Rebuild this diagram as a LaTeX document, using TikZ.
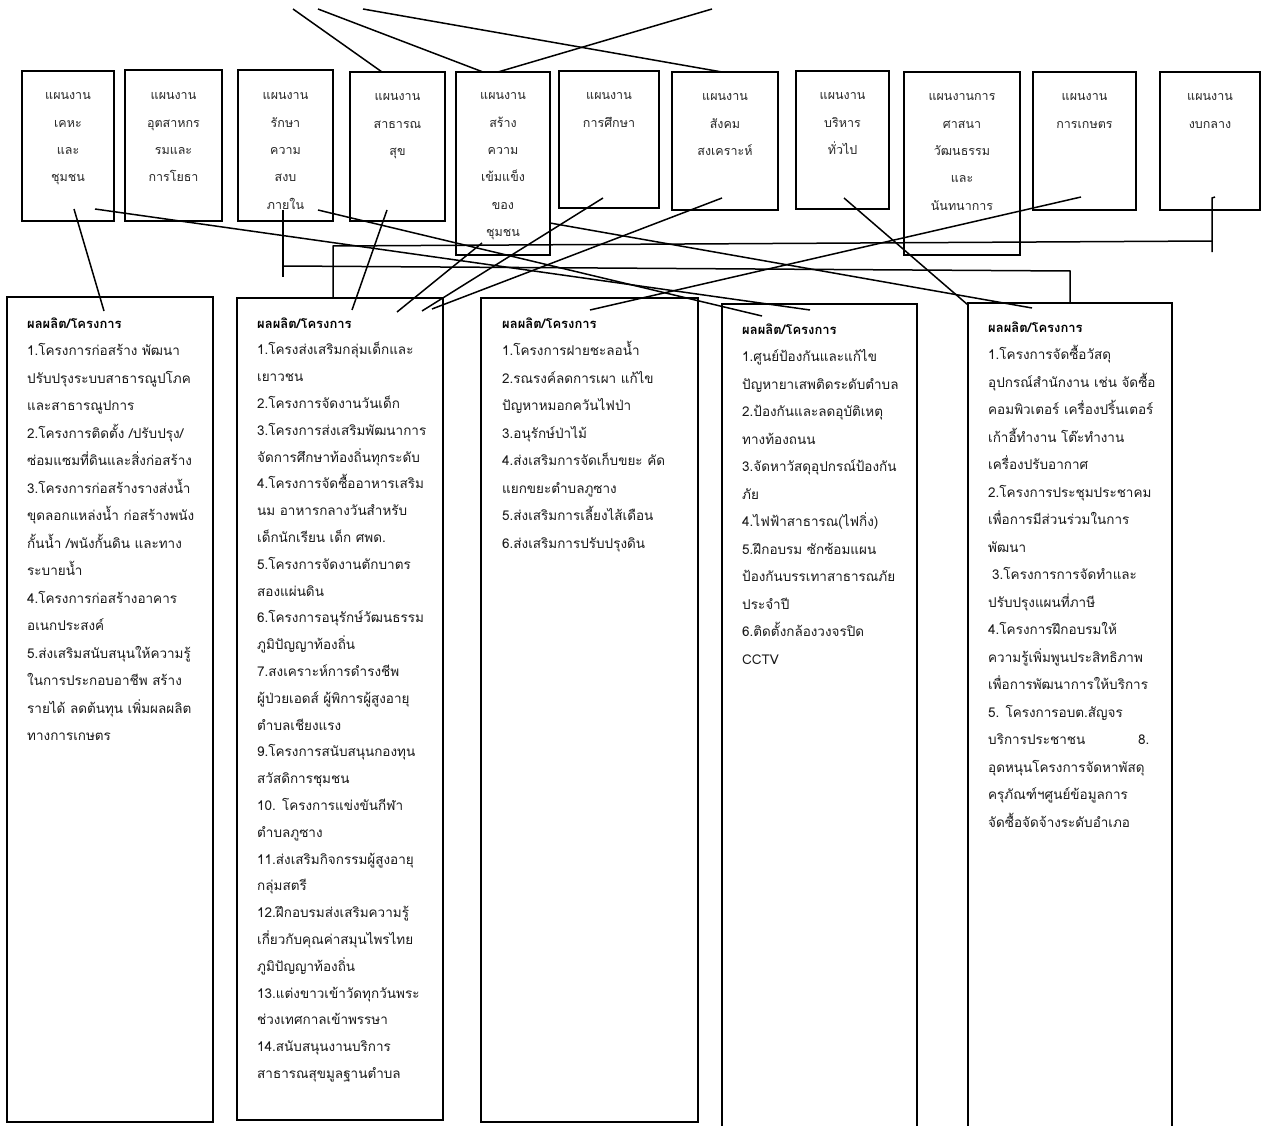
\documentclass[tikz,border=0pt]{standalone}
\usepackage{fontspec}
\newfontfamily\thai[Script=Thai]{Loma}
\newcommand\toplines[4]{%
  \foreach \s [count=\i from 0] in {#4}
    \node[ttext] (#1l\i) at (#2, #3+27.3*\i) {\s};}
\newcommand\botlines[5]{%
  \foreach \s [count=\i] in {#5}
    \node[btext] (#1l\i) at (#2, #3+#4*\i) {\s};}
\begin{document}
\begin{tikzpicture}[x=1pt,y=-1pt]
\tikzset{
  tbox/.style={draw, line width=1.6pt, inner sep=0pt, outer sep=0pt},
  ttext/.style={font=\thai\fontsize{12.5}{14}\selectfont, anchor=base, inner sep=0pt, text=black!85},
  btext/.style={font=\thai\fontsize{13.5}{15}\selectfont, anchor=base west, inner sep=0pt, text=black!90},
  hdr/.style={font=\thai\bfseries\fontsize{13}{15}\selectfont, anchor=base west, inner sep=0pt},
  conn/.style={line width=1.5pt},
}
\useasboundingbox (0,0) rectangle (1263,1126);
\clip (0,0) rectangle (1263,1126);

% top boxes
\node[tbox, minimum width=92pt,  minimum height=150pt] (t1)  at (68,146) {};
\node[tbox, minimum width=97pt,  minimum height=151pt] (t2)  at (173.5,145.5) {};
\node[tbox, minimum width=95pt,  minimum height=151pt] (t3)  at (285.5,145.5) {};
\node[tbox, minimum width=95pt,  minimum height=149pt] (t4)  at (397.5,146.5) {};
\node[tbox, minimum width=94pt,  minimum height=183pt] (t5)  at (503,163.5) {};
\node[tbox, minimum width=100pt, minimum height=137pt] (t6)  at (609,139.5) {};
\node[tbox, minimum width=106pt, minimum height=138pt] (t7)  at (725,141) {};
\node[tbox, minimum width=93pt,  minimum height=138pt] (t8)  at (842.5,140) {};
\node[tbox, minimum width=116pt, minimum height=183pt] (t9)  at (962,163.5) {};
\node[tbox, minimum width=103pt, minimum height=138pt] (t10) at (1084.5,141) {};
\node[tbox, minimum width=100pt, minimum height=138pt] (t11) at (1210,141) {};

\toplines{t1}{68}{100}{แผนงาน,เคหะ,และ,ชุมชน}
\toplines{t2}{173.5}{100}{แผนงาน,อุตสาหกร,รมและ,การโยธา}
\toplines{t3}{285.5}{100}{แผนงาน,รักษา,ความ,สงบ,ภายใน}
\toplines{t4}{397.5}{101}{แผนงาน,สาธารณ,สุข}
\toplines{t5}{503}{100}{แผนงาน,สร้าง,ความ,เข้มแข็ง,ของ,ชุมชน}
\toplines{t6}{609}{100}{แผนงาน,การศึกษา}
\toplines{t7}{725}{101}{แผนงาน,สังคม,สงเคราะห์}
\toplines{t8}{842.5}{100}{แผนงาน,บริหาร,ทั่วไป}
\toplines{t9}{962}{101}{แผนงานการ,ศาสนา,วัฒนธรรม,และ,นันทนาการ}
\toplines{t10}{1084.5}{101}{แผนงาน,การเกษตร}
\toplines{t11}{1210}{101}{แผนงาน,งบกลาง}

% bottom boxes
\node[tbox, minimum width=206pt, minimum height=825pt] (b1) at (110,709.5) {};
\node[tbox, minimum width=206pt, minimum height=822pt] (b2) at (340,709) {};
\node[tbox, minimum width=217pt, minimum height=824pt] (b3) at (589.5,710) {};
\node[tbox, minimum width=195pt, minimum height=846pt] (b4) at (819.5,727) {};
\node[tbox, minimum width=204pt, minimum height=847pt] (b5) at (1070,726.5) {};

\node[hdr] (b1h) at (27,328) {ผลผลิต/โครงการ};
\botlines{b1}{27}{328}{27.5}{1.โครงการก่อสร้าง พัฒนา,ปรับปรุงระบบสาธารณูปโภค,และสาธารณูปการ,2.โครงการติดตั้ง /ปรับปรุง/,ซ่อมแซมที่ดินและสิ่งก่อสร้าง,3.โครงการก่อสร้างรางส่งน้ำ,ขุดลอกแหล่งน้ำ ก่อสร้างพนัง,กั้นน้ำ /พนังกั้นดิน และทาง,ระบายน้ำ,4.โครงการก่อสร้างอาคาร,อเนกประสงค์,5.ส่งเสริมสนับสนุนให้ความรู้,ในการประกอบอาชีพ สร้าง,รายได้ ลดต้นทุน เพิ่มผลผลิต,ทางการเกษตร}

\node[hdr] (b2h) at (257,328) {ผลผลิต/โครงการ};
\botlines{b2}{257}{328}{26.8}{1.โครงส่งเสริมกลุ่มเด็กและ,เยาวชน,2.โครงการจัดงานวันเด็ก,3.โครงการส่งเสริมพัฒนาการ,จัดการศึกษาท้องถิ่นทุกระดับ,4.โครงการจัดซื้ออาหารเสริม,นม อาหารกลางวันสำหรับ,เด็กนักเรียน เด็ก ศพด.,5.โครงการจัดงานตักบาตร,สองแผ่นดิน,6.โครงการอนุรักษ์วัฒนธรรม,ภูมิปัญญาท้องถิ่น,7.สงเคราะห์การดำรงชีพ,ผู้ป่วยเอดส์ ผู้พิการผู้สูงอายุ,ตำบลเชียงแรง,9.โครงการสนับสนุนกองทุน,สวัสดิการชุมชน,10. โครงการแข่งขันกีฬา,ตำบลภูซาง,11.ส่งเสริมกิจกรรมผู้สูงอายุ,กลุ่มสตรี,12.ฝึกอบรมส่งเสริมความรู้,เกี่ยวกับคุณค่าสมุนไพรไทย,ภูมิปัญญาท้องถิ่น,13.แต่งขาวเข้าวัดทุกวันพระ,ช่วงเทศกาลเข้าพรรษา,14.สนับสนุนงานบริการ,สาธารณสุขมูลฐานตำบล}

\node[hdr] (b3h) at (502,328) {ผลผลิต/โครงการ};
\botlines{b3}{502}{328}{27.5}{1.โครงการฝายชะลอน้ำ,2.รณรงค์ลดการเผา แก้ไข,ปัญหาหมอกควันไฟป่า,3.อนุรักษ์ป่าไม้,4.ส่งเสริมการจัดเก็บขยะ คัด,แยกขยะตำบลภูซาง,5.ส่งเสริมการเลี้ยงไส้เดือน,6.ส่งเสริมการปรับปรุงดิน}

\node[hdr] (b4h) at (742,334) {ผลผลิต/โครงการ};
\botlines{b4}{742}{334}{27.5}{1.ศูนย์ป้องกันและแก้ไข,ปัญหายาเสพติดระดับตำบล,2.ป้องกันและลดอุบัติเหตุ,ทางท้องถนน,3.จัดหาวัสดุอุปกรณ์ป้องกัน,ภัย,4.ไฟฟ้าสาธารณ(ไฟกิ่ง),5.ฝึกอบรม ซักซ้อมแผน,ป้องกันบรรเทาสาธารณภัย,ประจำปี,6.ติดตั้งกล้องวงจรปิด,CCTV}

\node[hdr] (b5h) at (988,332) {ผลผลิต/โครงการ};
\botlines{b5}{988}{332}{27.5}{1.โครงการจัดซื้อวัสดุ,อุปกรณ์สำนักงาน เช่น จัดซื้อ,คอมพิวเตอร์ เครื่องปริ้นเตอร์,เก้าอี้ทำงาน โต๊ะทำงาน,เครื่องปรับอากาศ,2.โครงการประชุมประชาคม,เพื่อการมีส่วนร่วมในการ,พัฒนา,\hspace{4pt}3.โครงการการจัดทำและ,ปรับปรุงแผนที่ภาษี,4.โครงการฝึกอบรมให้,ความรู้เพิ่มพูนประสิทธิภาพ,เพื่อการพัฒนาการให้บริการ,5. โครงการอบต.สัญจร,บริการประชาชน,อุดหนุนโครงการจัดหาพัสดุ,ครุภัณฑ์ฯศูนย์ข้อมูลการ,จัดซื้อจัดจ้างระดับอำเภอ}
\node[btext] (b5eight) at (1138,744.5) {8.};

% connector end points
\coordinate (f1) at (293,9);
\coordinate (f2) at (318,9);
\coordinate (f3) at (363,9);
\coordinate (f4) at (712,9);
\coordinate (t4n) at (382,72);
\coordinate (t5na) at (483,72);
\coordinate (t5nb) at (498,72);
\coordinate (t7n) at (722,72);
\coordinate (t1a) at (74,209);
\coordinate (t1b) at (95,209);
\coordinate (t3a) at (318,210);
\coordinate (t3b) at (283,210);
\coordinate (t4a) at (387,210);
\coordinate (t5a) at (482,243);
\coordinate (t5b) at (550,223);
\coordinate (t6a) at (603,198);
\coordinate (t7a) at (722,198);
\coordinate (t8a) at (844,198);
\coordinate (t10a) at (1081,197);
\coordinate (t11a) at (1212,198);
\coordinate (b1a) at (104,311);
\coordinate (b2a) at (352,310);
\coordinate (b2b) at (397,312);
\coordinate (b2c) at (422,311);
\coordinate (b2d) at (432,309);
\coordinate (b2e) at (333,298);
\coordinate (b3a) at (590,310);
\coordinate (b4a) at (810,310);
\coordinate (b4b) at (762,316);
\coordinate (b5a) at (1032,308);
\coordinate (b5b) at (968,305);
\coordinate (b5c) at (1070,303);

\draw[conn] (f1) -- (t4n);
\draw[conn] (f2) -- (t5na);
\draw[conn] (f3) -- (t7n);
\draw[conn] (f4) -- (t5nb);
\draw[conn] (t1a) -- (b1a);
\draw[conn] (t1b) -- (b4a);
\draw[conn] (t3a) -- (b4b);
\draw[conn] (t4a) -- (b2a);
\draw[conn] (t5a) -- (b2b);
\draw[conn] (t6a) -- (b2c);
\draw[conn] (t7a) -- (b2d);
\draw[conn] (t5b) -- (b5a);
\draw[conn] (t8a) -- (b5b);
\draw[conn] (t10a) -- (b3a);
\draw[conn] (b2e) -- (333,246) -- (1212,241);
\draw[conn] (1215,197) -- (t11a) -- (1212,252);
\draw[conn] (t3b) -- (283,277);
\draw[conn] (283,266) -- (1070,271) -- (b5c);
\end{tikzpicture}
\end{document}
